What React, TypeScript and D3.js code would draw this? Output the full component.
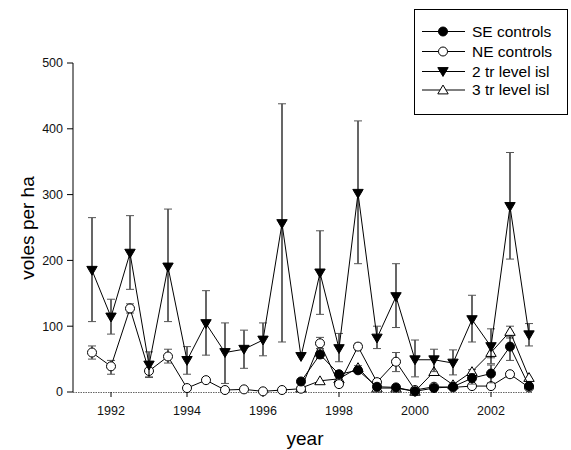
import React from "react";
import * as d3 from "d3";

const years = [1991.5,1992,1992.5,1993,1993.5,1994,1994.5,1995,1995.5,1996,1996.5,1997,1997.5,1998,1998.5,1999,1999.5,2000,2000.5,2001,2001.5,2002,2002.5,2003];
const yearsLate = years.slice(11);

const tr2 = [185,114,211,41,190,48,104,60,65,79,256,54,181,66,302,82,145,49,49,44,110,69,282,87];
const tr2Hi = [265,141,268,61,278,69,154,105,94,105,438,54,245,89,412,100,195,79,65,64,147,96,364,104];
const tr2Lo = [107,88,156,23,107,27,56,13,36,55,76,54,118,46,195,66,98,23,31,26,76,43,202,70];

const ne = [60,39,127,32,54,6,18,3,4,1,3,5,74,12,69,15,46,3,8,7,9,9,27,7];
const neHi = [70,48,134,44,65,6,18,3,4,1,3,5,83,16,74,15,60,3,8,7,9,9,30,7];
const neLo = [50,27,120,22,44,6,18,3,4,1,3,5,66,8,64,15,31,3,8,7,9,9,22,7];

const se = [16,57,27,33,8,7,1,6,8,21,28,69,9];
const seHi = [16,66,30,36,8,7,1,6,8,28,41,84,9];
const seLo = [16,51,24,30,8,7,1,6,8,12,14,48,9];

const tr3 = [6,17,20,37,6,6,1,31,11,31,60,92,22];
const tr3Hi = [6,17,20,40,6,6,1,31,11,34,72,100,22];
const tr3Lo = [6,17,20,34,6,6,1,31,11,28,52,82,22];

const yTicks = [0,100,200,300,400,500];
const xTicks = [1992,1994,1996,1998,2000,2002];
const legendLabels = ["SE controls","NE controls","2 tr level isl","3 tr level isl"];

const x = d3.scaleLinear().domain([1991, 2003.1]).range([73, 532.8]);
const y = d3.scaleLinear().domain([0, 500]).range([392, 63]);

type Kind = "filledCircle" | "openCircle" | "down" | "up";

function Marker({ cx, cy, kind }: { cx: number; cy: number; kind: Kind }) {
  if (kind === "filledCircle") return <circle cx={cx} cy={cy} r={4.5} fill="#000" stroke="#000" strokeWidth={1} />;
  if (kind === "openCircle") return <circle cx={cx} cy={cy} r={4.5} fill="#fff" stroke="#000" strokeWidth={1} />;
  const s = 5.2;
  if (kind === "down") {
    const p = `M${cx - s},${cy - s * 0.75}L${cx + s},${cy - s * 0.75}L${cx},${cy + s * 0.95}Z`;
    return <path d={p} fill="#000" stroke="#000" strokeWidth={1} />;
  }
  const p = `M${cx - s},${cy + s * 0.75}L${cx + s},${cy + s * 0.75}L${cx},${cy - s * 0.95}Z`;
  return <path d={p} fill="#fff" stroke="#000" strokeWidth={1} />;
}

function Series({ xs, vals, hi, lo, kind }: { xs: number[]; vals: number[]; hi: number[]; lo: number[]; kind: Kind }) {
  const line = d3.line<number>().x((_, i) => x(xs[i])).y((v) => y(v));
  return (
    <g>
      {vals.map((v, i) => {
        const cx = x(xs[i]);
        const parts = [];
        if (hi[i] - v > 2) {
          parts.push(<line key="u" x1={cx} x2={cx} y1={y(v)} y2={y(hi[i])} stroke="#000" strokeWidth={1.2} />);
          parts.push(<line key="uc" x1={cx - 4} x2={cx + 4} y1={y(hi[i])} y2={y(hi[i])} stroke="#555" strokeWidth={1} />);
        }
        if (v - lo[i] > 2) {
          parts.push(<line key="l" x1={cx} x2={cx} y1={y(v)} y2={y(lo[i])} stroke="#000" strokeWidth={1.2} />);
          parts.push(<line key="lc" x1={cx - 4} x2={cx + 4} y1={y(lo[i])} y2={y(lo[i])} stroke="#555" strokeWidth={1} />);
        }
        return <g key={i}>{parts}</g>;
      })}
      <path d={line(vals) || ""} fill="none" stroke="#000" strokeWidth={1} />
      {vals.map((v, i) => (
        <Marker key={i} cx={x(xs[i])} cy={y(v)} kind={kind} />
      ))}
    </g>
  );
}

export default function App() {
  const font = "Liberation Sans, Arial, sans-serif";
  const kinds: Kind[] = ["filledCircle", "openCircle", "down", "up"];
  const legendY = [31.5, 51.5, 71.5, 90];
  return (
    <svg width={571} height={450} style={{ position: "absolute", left: 0, top: 0, background: "#fff" }} fontFamily={font}>
      <rect x={0} y={0} width={571} height={450} fill="#fff" />
      <line x1={73} x2={73} y1={y(500)} y2={y(0)} stroke="#000" strokeWidth={1} />
      {yTicks.map((t) => (
        <g key={t}>
          <line x1={67} x2={73} y1={y(t)} y2={y(t)} stroke="#000" strokeWidth={1} />
          <text x={63} y={y(t)} dy="0.35em" textAnchor="end" fontSize={12.5} fill="#111">{t}</text>
        </g>
      ))}
      <line x1={73} x2={532} y1={392.5} y2={392.5} stroke="#666" strokeWidth={1} strokeDasharray="1.5,1" />
      {xTicks.map((t) => (
        <g key={t}>
          <line x1={x(t)} x2={x(t)} y1={392} y2={397} stroke="#000" strokeWidth={1} />
          <text x={x(t)} y={415} textAnchor="middle" fontSize={12.5} fill="#111">{t}</text>
        </g>
      ))}
      <text x={305} y={445} textAnchor="middle" fontSize={19}>year</text>
      <text transform={`translate(34,228) rotate(-90)`} textAnchor="middle" fontSize={19}>voles per ha</text>

      <Series xs={yearsLate} vals={tr3} hi={tr3Hi} lo={tr3Lo} kind="up" />
      <Series xs={years} vals={ne} hi={neHi} lo={neLo} kind="openCircle" />
      <Series xs={yearsLate} vals={se} hi={seHi} lo={seLo} kind="filledCircle" />
      <Series xs={years} vals={tr2} hi={tr2Hi} lo={tr2Lo} kind="down" />

      <rect x={414.5} y={9.5} width={153} height={105} fill="#fff" stroke="#000" strokeWidth={1} />
      {legendLabels.map((lab, i) => (
        <g key={lab}>
          <line x1={422} x2={465} y1={legendY[i]} y2={legendY[i]} stroke="#000" strokeWidth={1} />
          <Marker cx={443} cy={legendY[i]} kind={kinds[i]} />
          <text x={472} y={legendY[i]} dy="0.35em" fontSize={15.5}>{lab}</text>
        </g>
      ))}
    </svg>
  );
}
